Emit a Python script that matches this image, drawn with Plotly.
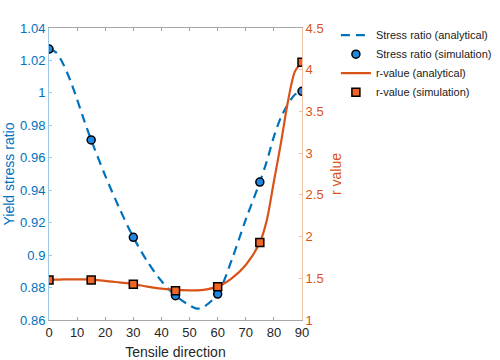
import plotly.graph_objects as go

# Analytical curves
ang_an = [0, 2.5, 5, 7.5, 10, 12.5, 15, 20, 25, 30, 35, 40, 45, 50, 52.5, 55, 60, 65, 70, 75, 77.5, 80, 82.5, 85, 87.5, 90]
stress_an = [1.027, 1.025, 1.018, 1.008, 0.996, 0.983, 0.971, 0.949, 0.929, 0.911, 0.896, 0.884, 0.875, 0.869, 0.867, 0.868, 0.876, 0.897, 0.922, 0.945, 0.958, 0.973, 0.985, 0.993, 0.999, 1.001]
r_an = [1.48, 1.483, 1.486, 1.488, 1.488, 1.487, 1.484, 1.47, 1.45, 1.43, 1.40, 1.375, 1.36, 1.355, 1.356, 1.362, 1.40, 1.50, 1.66, 1.93, 2.20, 2.66, 3.12, 3.62, 3.98, 4.09]

# Simulation points
ang_sim = [0, 15, 30, 45, 60, 75, 90]
stress_sim = [1.027, 0.971, 0.911, 0.875, 0.876, 0.945, 1.001]
r_sim = [1.48, 1.48, 1.43, 1.35, 1.40, 1.93, 4.09]

x_ticks = [0, 10, 20, 30, 40, 50, 60, 70, 80, 90]

BLUE = "#0072BD"
ORANGE = "#D95319"

fig = go.Figure()
fig.add_trace(go.Scatter(x=ang_an, y=stress_an, mode="lines", name="Stress ratio (analytical)",
                         line=dict(color=BLUE, width=2.2, dash="9px,6px", shape="spline", smoothing=0.8)))
fig.add_trace(go.Scatter(x=ang_sim, y=stress_sim, mode="markers", name="Stress ratio (simulation)",
                         marker=dict(symbol="circle", color="#1E88E5", size=8, line=dict(color="black", width=1.5))))
fig.add_trace(go.Scatter(x=ang_an, y=r_an, mode="lines", name="r-value (analytical)", yaxis="y2",
                         line=dict(color=ORANGE, width=2.2, shape="spline", smoothing=0.8)))
fig.add_trace(go.Scatter(x=ang_sim, y=r_sim, mode="markers", name="r-value (simulation)", yaxis="y2",
                         marker=dict(symbol="square", color="#F26522", size=8, line=dict(color="black", width=1.5))))

fig.update_layout(
    width=500, height=360,
    margin=dict(l=49, r=198, t=28, b=40, autoexpand=False),
    paper_bgcolor="white", plot_bgcolor="white",
    font=dict(family="Liberation Sans, Arial", size=12, color="#262626"),
    showlegend=True,
    legend=dict(x=1.134, y=1.025, xanchor="left", yanchor="top", bgcolor="rgba(0,0,0,0)",
                font=dict(size=11, color="#1a1a1a"), itemwidth=30, tracegroupgap=0),
    xaxis=dict(range=[0, 90], tickvals=x_ticks, ticks="inside", ticklen=3, tickcolor="#a0a0a0",
               showline=True, linecolor="#a8a8a8", linewidth=1, mirror="ticks", showgrid=False,
               zeroline=False, tickfont=dict(size=13, color="#262626"), automargin=False,
               title=dict(text="Tensile direction", font=dict(size=14, color="#262626"), standoff=8)),
    yaxis=dict(range=[0.86, 1.04], dtick=0.02, tick0=0.86, ticks="inside", ticklen=3, tickcolor="#9cc8e8",
               showline=True, linecolor="#9cc8e8", linewidth=1, showgrid=False, zeroline=False,
               tickfont=dict(size=13, color=BLUE), automargin=False,
               title=dict(text="Yield stress ratio", font=dict(size=14, color=BLUE), standoff=2)),
    yaxis2=dict(range=[1, 4.5], dtick=0.5, tick0=1, overlaying="y", side="right", ticks="inside", ticklen=3,
                tickcolor="#f3c0a8", showline=True, linecolor="#f3c0a8", linewidth=1, showgrid=False,
                zeroline=False, tickfont=dict(size=13, color=ORANGE), automargin=False,
                title=dict(text="r value", font=dict(size=14, color=ORANGE), standoff=8)),
)

fig.write_html("out.html", config={"displayModeBar": False},
               post_script="document.body.style.margin='0';document.body.style.padding='0';")
